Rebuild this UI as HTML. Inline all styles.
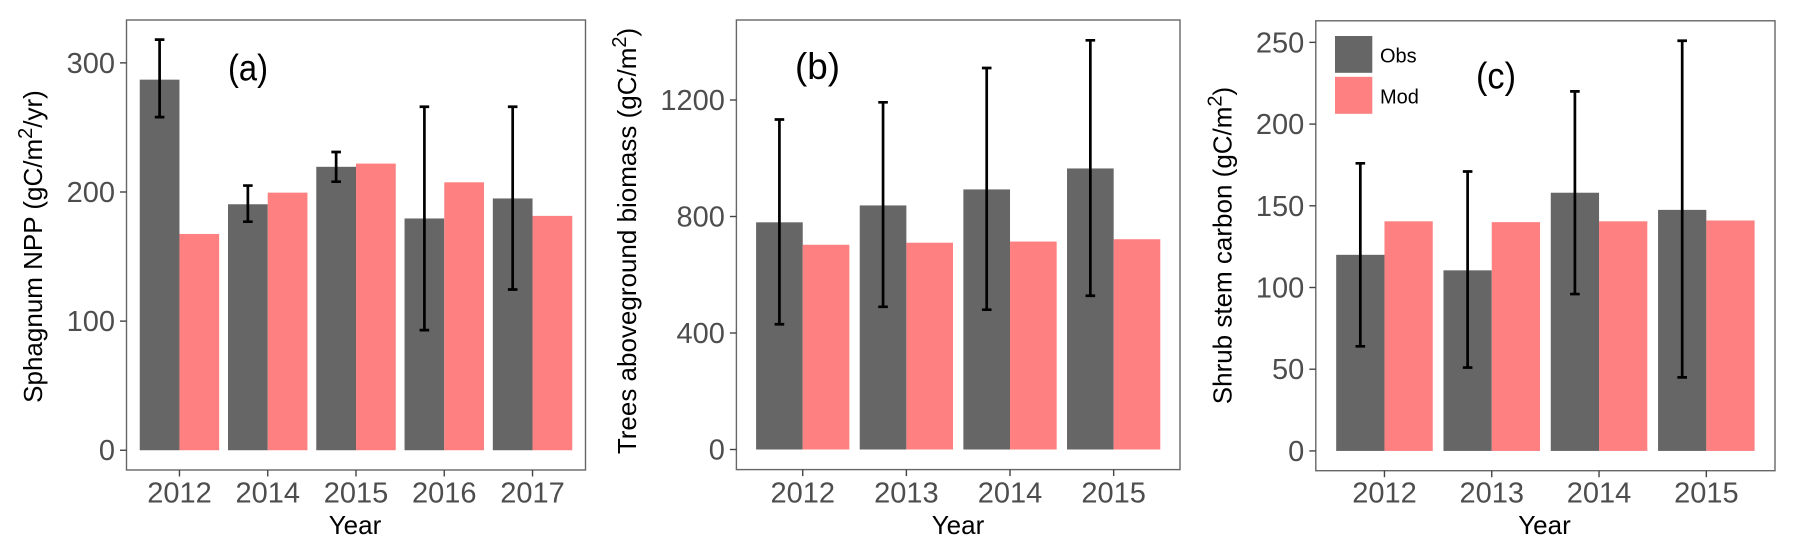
<!DOCTYPE html>
<html lang="en">
<head>
<meta charset="utf-8">
<title>Observed and modelled carbon</title>
<style>
html,body{margin:0;padding:0;background:#fff;width:1794px;height:553px;overflow:hidden}
svg{display:block;font-family:"Liberation Sans",Arial,sans-serif}
</style>
</head>
<body>
<svg id="chart" xmlns="http://www.w3.org/2000/svg" width="1794" height="553" viewBox="0 0 1794 553">
  <rect x="0" y="0" width="1794" height="553" fill="#fff"/>
  <g id="panel-a"></g>
  <g id="panel-b"></g>
  <g id="panel-c"></g>

  <text transform="translate(42 246.5) rotate(-90)" text-anchor="middle" font-size="26" fill="#000">Sphagnum NPP (gC/m<tspan dy="-10" font-size="20">2</tspan><tspan dy="10">/yr)</tspan></text>
  <text transform="translate(636 241) rotate(-90)" text-anchor="middle" font-size="26" fill="#000">Trees aboveground biomass (gC/m<tspan dy="-10" font-size="20">2</tspan><tspan dy="10">)</tspan></text>
  <text transform="translate(1231.5 245.5) rotate(-90)" text-anchor="middle" font-size="26" fill="#000">Shrub stem carbon (gC/m<tspan dy="-10" font-size="20">2</tspan><tspan dy="10">)</tspan></text>

  <text x="355" y="534" text-anchor="middle" font-size="26" fill="#000">Year</text>
  <text x="958" y="534" text-anchor="middle" font-size="26" fill="#000">Year</text>
  <text x="1544.5" y="534" text-anchor="middle" font-size="26" fill="#000">Year</text>

  <text x="228" y="80.5" font-size="37" textLength="40" lengthAdjust="spacingAndGlyphs" fill="#000">(a)</text>
  <text x="795" y="79" font-size="37" textLength="45" lengthAdjust="spacingAndGlyphs" fill="#000">(b)</text>
  <text x="1476" y="88.5" font-size="37" textLength="40" lengthAdjust="spacingAndGlyphs" fill="#000">(c)</text>

  <g>
    <rect x="1335" y="36" width="37.3" height="36.8" fill="#666"/>
    <rect x="1335" y="76.8" width="37.3" height="37" fill="#ff8080"/>
    <text x="1380" y="62.3" font-size="20" fill="#000">Obs</text>
    <text x="1380" y="103.3" font-size="20" fill="#000">Mod</text>
  </g>
</svg>
<script>
// Panel (a)
const yearsA = ["2012", "2014", "2015", "2016", "2017"];
const obsA = [287, 190.5, 219.5, 179.5, 195];
const modA = [167.5, 199.5, 222, 207.5, 181.5];
const errLowA = [258, 177, 208, 93, 124.5];
const errHighA = [318, 205, 231, 266, 266];
const ticksA = [0, 100, 200, 300];

// Panel (b)
const yearsB = ["2012", "2013", "2014", "2015"];
const obsB = [780, 838, 893, 965];
const modB = [703, 710, 714, 722];
const errLowB = [430, 490, 480, 528];
const errHighB = [1133, 1192, 1310, 1405];
const ticksB = [0, 400, 800, 1200];

// Panel (c)
const yearsC = ["2012", "2013", "2014", "2015"];
const obsC = [120, 110.5, 158, 147.5];
const modC = [140.5, 140, 140.5, 141];
const errLowC = [64, 51, 96, 45];
const errHighC = [176, 171, 220, 251];
const ticksC = [0, 50, 100, 150, 200, 250];

const NS = "http://www.w3.org/2000/svg";

function make(parent, tag, props) {
  const el = document.createElementNS(NS, tag);
  for (const k in props) el.setAttribute(k, props[k]);
  parent.appendChild(el);
  return el;
}

function drawPanel(id, frame, domain, expand, years, obs, mod, errLow, errHigh, ticks) {
  const g = document.getElementById(id);
  const y = v => frame.bottom - (v - domain[0]) / (domain[1] - domain[0]) * (frame.bottom - frame.top);
  const step = (frame.right - frame.left) / (years.length - 1 + 2 * expand);
  const x = i => frame.left + (expand + i) * step;
  const barW = step * 0.45;

  years.forEach((yr, i) => {
    const o = make(g, "rect", {x: x(i) - barW, y: y(obs[i]), width: barW, height: y(0) - y(obs[i]), fill: "#666"});
    
    
    const m = make(g, "rect", {x: x(i), y: y(mod[i]), width: barW, height: y(0) - y(mod[i]), fill: "#ff8080"});
    
    
  });

  years.forEach((yr, i) => {
    const cx = x(i) - barW / 2;
    const d = "M" + (cx - 4.8) + " " + y(errHigh[i]) + "H" + (cx + 4.8) +
              "M" + cx + " " + y(errHigh[i]) + "V" + y(errLow[i]) +
              "M" + (cx - 4.8) + " " + y(errLow[i]) + "H" + (cx + 4.8);
    const e = make(g, "path", {d: d, fill: "none", stroke: "#000", "stroke-width": 2.7});
    
    
  });

  const border = make(g, "rect", {x: frame.left, y: frame.top, width: frame.right - frame.left, height: frame.bottom - frame.top, fill: "none", stroke: "#666", "stroke-width": 1.4});
  
  

  ticks.forEach(t => {
    const tk = make(g, "line", {x1: frame.left - 6.5, x2: frame.left, y1: y(t), y2: y(t), stroke: "#444", "stroke-width": 1.4});
    
    
    const lb = make(g, "text", {x: frame.left - 11.5, y: y(t) + 10, "text-anchor": "end", "font-size": 29, fill: "#4d4d4d"});
    
    
    lb.textContent = t;
  });

  years.forEach((yr, i) => {
    const tk = make(g, "line", {x1: x(i), x2: x(i), y1: frame.bottom, y2: frame.bottom + 6.5, stroke: "#444", "stroke-width": 1.4});
    
    
    const lb = make(g, "text", {x: x(i), y: 502.5, "text-anchor": "middle", "font-size": 29, fill: "#4d4d4d"});
    
    
    lb.textContent = yr;
  });
}

drawPanel("panel-a", {left: 126.5, right: 585.5, top: 20, bottom: 470}, [-15.3, 333.2], 0.6, yearsA, obsA, modA, errLowA, errHighA, ticksA);
drawPanel("panel-b", {left: 736.4, right: 1180, top: 20, bottom: 469.6}, [-69, 1474.7], 0.64, yearsB, obsB, modB, errLowB, errHighB, ticksB);
drawPanel("panel-c", {left: 1315.8, right: 1775, top: 20.8, bottom: 470.7}, [-12.1, 263.2], 0.64, yearsC, obsC, modC, errLowC, errHighC, ticksC);
</script>
</body>
</html>
